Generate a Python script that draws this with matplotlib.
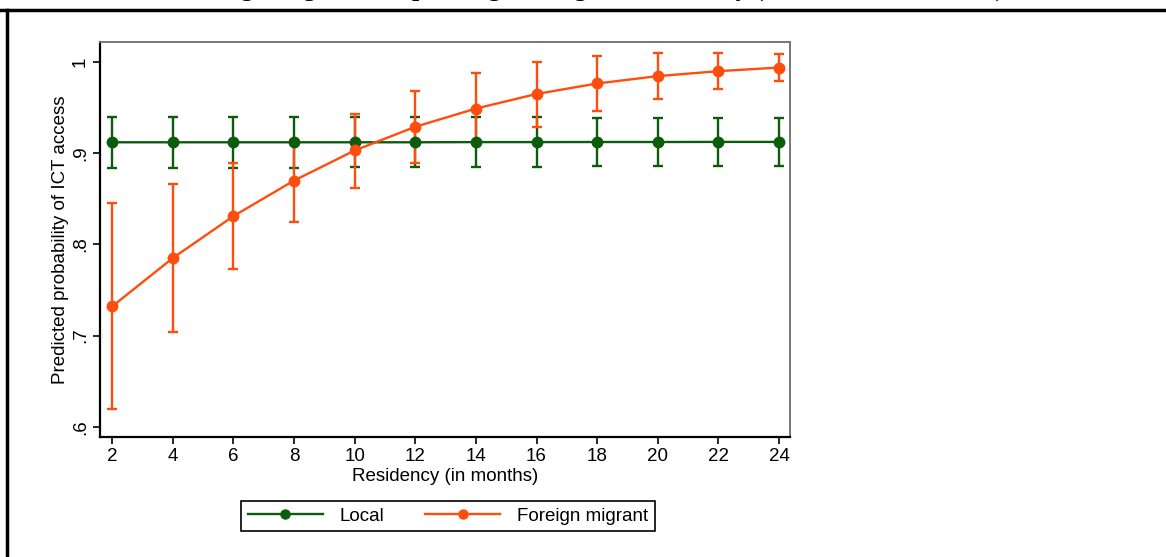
import matplotlib
matplotlib.use('Agg')
import matplotlib.pyplot as plt
from matplotlib.lines import Line2D

# residency in months
meses = [2, 4, 6, 8, 10, 12, 14, 16, 18, 20, 22, 24]

# local
local = [0.912, 0.912, 0.912, 0.912, 0.912, 0.912, 0.9122, 0.9122, 0.9123, 0.9123, 0.9124, 0.9124]
local_lo = [0.884, 0.884, 0.884, 0.884, 0.8845, 0.885, 0.885, 0.885, 0.8855, 0.8855, 0.886, 0.886]
local_hi = [0.940, 0.940, 0.940, 0.940, 0.9395, 0.9395, 0.9395, 0.9395, 0.939, 0.939, 0.939, 0.939]

# foreign migrant
migr = [0.732, 0.785, 0.831, 0.870, 0.903, 0.929, 0.949, 0.965, 0.9765, 0.9846, 0.990, 0.994]
migr_lo = [0.619, 0.704, 0.773, 0.825, 0.862, 0.889, 0.911, 0.929, 0.946, 0.959, 0.970, 0.979]
migr_hi = [0.845, 0.866, 0.889, 0.915, 0.943, 0.9685, 0.9875, 1.000, 1.007, 1.010, 1.010, 1.009]

yticks = [0.6, 0.7, 0.8, 0.9, 1.0]
ytlabels = ['.6', '.7', '.8', '.9', '1']

titulo = ('Figure 2: Predicted ICT access of local and foreign migrants, '
          'depending on length of residency (95% confidence level)')
ylabel = 'Predicted probability of ICT access'
xlabel = 'Residency (in months)'
nomes = ['Local', 'Foreign migrant']

verde = '#0b5c0b'
laranja = '#ff4d0d'

plt.rcParams['font.family'] = ['Liberation Sans', 'DejaVu Sans']

fig = plt.figure(figsize=(11.66, 5.57), dpi=100)
ax = fig.add_axes([0.0858, 0.2154, 0.5917, 0.7092])

# intervalos primeiro, linhas depois (como no stata)
ax.errorbar(meses, local, yerr=[[a - b for a, b in zip(local, local_lo)],
                                 [b - a for a, b in zip(local, local_hi)]],
            fmt='none', ecolor=verde, elinewidth=1.7, capsize=3.5, capthick=1.7)
ax.errorbar(meses, migr, yerr=[[a - b for a, b in zip(migr, migr_lo)],
                                [b - a for a, b in zip(migr, migr_hi)]],
            fmt='none', ecolor=laranja, elinewidth=1.7, capsize=3.5, capthick=1.7)
l1, = ax.plot(meses, local, '-o', color=verde, lw=1.7, ms=7.5)
l2, = ax.plot(meses, migr, '-o', color=laranja, lw=1.7, ms=7.5)

ax.set_xlim(1.6, 24.36)
ax.set_ylim(0.5887, 1.022)
ax.set_xticks(meses)
ax.set_yticks(yticks)
ax.set_yticklabels(ytlabels, rotation=90, va='center')
ax.tick_params(direction='out', length=5, width=1.2, labelsize=13.5, colors='black')
ax.tick_params(axis='y', pad=3)
ax.tick_params(axis='x', pad=3)
for s in ['left', 'bottom']:
    ax.spines[s].set_linewidth(1.6)
    ax.spines[s].set_color('black')
for s in ['top', 'right']:
    ax.spines[s].set_linewidth(1.4)
    ax.spines[s].set_color('#777777')
ax.set_ylabel(ylabel, fontsize=13.5, labelpad=2)
ax.set_xlabel(xlabel, fontsize=13.5, labelpad=2)

leg = fig.legend([l1, l2], nomes, loc='center', bbox_to_anchor=(448 / 1166, 1 - 516 / 557),
                 ncol=2, fontsize=13.5, handlelength=4.0, columnspacing=2.2,
                 handletextpad=0.9, fancybox=False, edgecolor='black', framealpha=1,
                 borderpad=0.35)
leg.get_frame().set_linewidth(1.2)
for h in leg.legend_handles:
    h.set_markersize(6.5)

# borda da tabela
fig.add_artist(Line2D([0, 1], [1 - 10 / 557, 1 - 10 / 557], transform=fig.transFigure,
                      color='black', lw=2.5))
fig.add_artist(Line2D([7 / 1166, 7 / 1166], [0, 1 - 10 / 557], transform=fig.transFigure,
                      color='black', lw=2.5))

# titulo cortado no topo (so as pernas das letras aparecem)
fig.text(1004 / 1166, 1 + 4.5 / 557, titulo, ha='right', va='baseline',
         fontsize=18.5, fontweight='bold', family=['Liberation Serif', 'DejaVu Serif'])

fig.savefig('out.png', dpi=100)
